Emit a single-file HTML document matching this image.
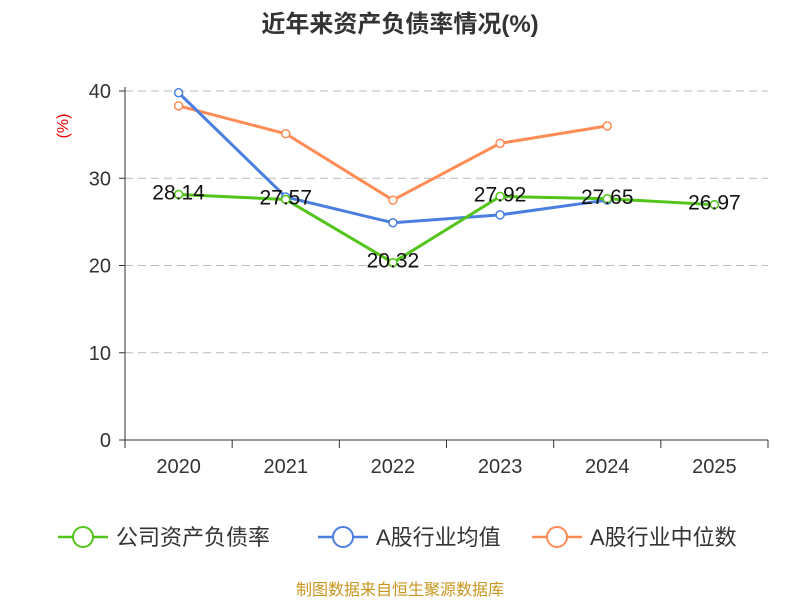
<!DOCTYPE html>
<html><head><meta charset="utf-8"><style>
body{margin:0;background:#fff;}
svg{display:block;font-family:"Liberation Sans","Noto Sans CJK SC",sans-serif;}
</style></head><body>
<svg id="chart" width="800" height="600">
<text x="400" y="32" text-anchor="middle" font-size="24" font-weight="bold" fill="#333">近年来资产负债率情况(%)</text>
<text x="68" y="126" text-anchor="middle" font-size="16" fill="#e00" transform="rotate(-90 68 126)">(%)</text>
<g id="grid"></g><g id="axes"></g><g id="series"></g><g id="legend"></g>
<text x="400" y="595" text-anchor="middle" font-size="16" fill="#c8961e">制图数据来自恒生聚源数据库</text>
</svg>
<script>
const years=["2020","2021","2022","2023","2024","2025"];
const yTicks=[0,10,20,30,40];
const company=[28.14,27.57,20.32,27.92,27.65,26.97];
const companyLabels=["28.14","27.57","20.32","27.92","27.65","26.97"];
const industryAvg=[39.8,27.85,24.9,25.8,27.5,null];
const industryMedian=[38.3,35.1,27.5,34.0,36.0,null];
const seriesNames=["公司资产负债率","A股行业均值","A股行业中位数"];
const colors=["#52c41a","#4a7fe0","#ff8c55"];

const NS="http://www.w3.org/2000/svg";
const x0=125,x1=768,yBase=440,yTop=91;
const band=(x1-x0)/years.length;
function xs(i){return x0+band*(i+0.5);}
function ys(v){return yBase-(v/40)*(yBase-yTop);}
function mk(tag,attrs,parent){const e=document.createElementNS(NS,tag);for(const k in attrs)e.setAttribute(k,attrs[k]);parent.appendChild(e);return e;}
const grid=document.getElementById('grid'),axes=document.getElementById('axes'),ser=document.getElementById('series'),leg=document.getElementById('legend');

yTicks.forEach(t=>{
  const y=ys(t);
  if(t>0){const l=mk('line',{x1:x0,x2:x1,y1:y,y2:y,stroke:'#bbb','stroke-dasharray':'8,5'},grid);
  
  }
  const tk=mk('line',{x1:x0-6,x2:x0,y1:y,y2:y,stroke:'#333'},axes);
  
  
  const tx=mk('text',{x:x0-14,y:y+7,'text-anchor':'end','font-size':20,fill:'#333'},axes);
  tx.textContent=t;
  
  
});
const ya=mk('line',{x1:x0,x2:x0,y1:yTop-4,y2:yBase,stroke:'#333'},axes);


const xa=mk('line',{x1:x0,x2:x1,y1:yBase,y2:yBase,stroke:'#333'},axes);


for(let i=0;i<=years.length;i++){
  const x=x0+band*i;
  const t=mk('line',{x1:x,x2:x,y1:yBase,y2:yBase+8,stroke:'#333'},axes);
  
  
}
years.forEach((yr,i)=>{
  const t=mk('text',{x:xs(i),y:yBase+33,'text-anchor':'middle','font-size':20,fill:'#333'},axes);
  t.textContent=yr;
  
  
});

function drawSeries(data,color,name){
  const pts=[];data.forEach((v,i)=>{if(v!=null)pts.push([xs(i),ys(v)]);});
  const p=mk('polyline',{points:pts.map(p=>p.join(',')).join(' '),fill:'none',stroke:color,'stroke-width':3},ser);
  
  
  pts.forEach(q=>{
    const c=mk('circle',{cx:q[0],cy:q[1],r:4,fill:'#fff',stroke:color,'stroke-width':1.5},ser);
    
    
  });
}
drawSeries(industryMedian,colors[2],'industry-median');
drawSeries(industryAvg,colors[1],'industry-average');
drawSeries(company,colors[0],'company-debt-ratio');
company.forEach((v,i)=>{
  const t=mk('text',{x:xs(i),y:ys(v)+5,'text-anchor':'middle','font-size':21,fill:'#111'},ser);
  t.textContent=companyLabels[i];
  
  
});

const legX=[58,318,532];
seriesNames.forEach((n,i)=>{
  const g=mk('g',{},leg);
  
  
  const lx=legX[i],ly=537;
  mk('line',{x1:lx,x2:lx+50,y1:ly,y2:ly,stroke:colors[i],'stroke-width':2.5},g);
  mk('circle',{cx:lx+25,cy:ly,r:10,fill:'#fff',stroke:colors[i],'stroke-width':2},g);
  const t=mk('text',{x:lx+58,y:ly+8,'font-size':22,fill:'#333'},g);
  t.textContent=n;
});
</script>
</body></html>
